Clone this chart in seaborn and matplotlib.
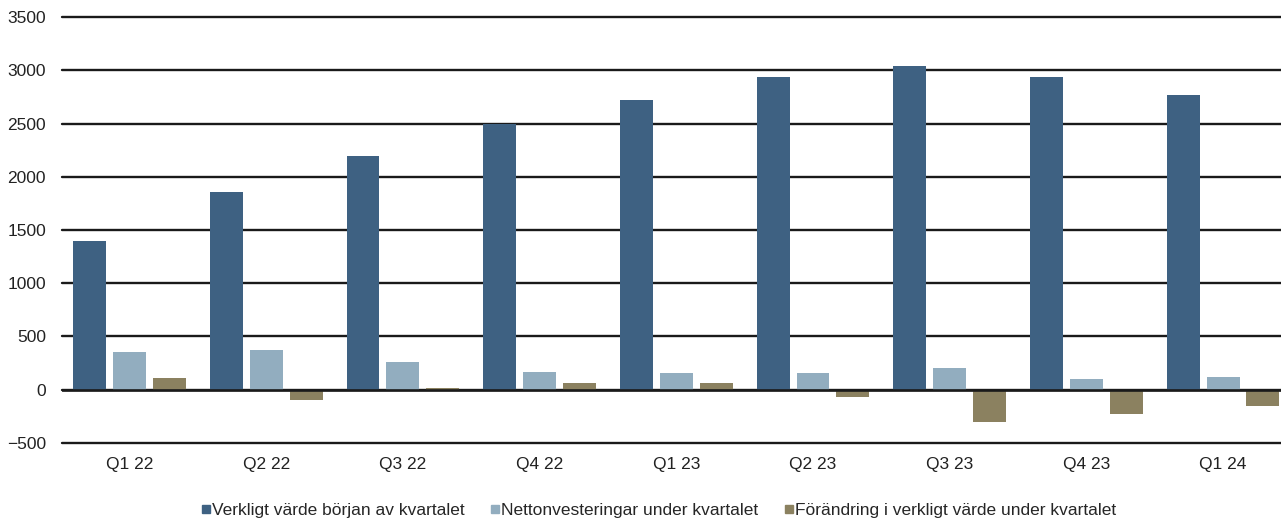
import numpy as np
import pandas as pd
import matplotlib
matplotlib.use("Agg")
import matplotlib.pyplot as plt
from matplotlib.lines import Line2D
import seaborn as sns

quarters = ["Q1 22", "Q2 22", "Q3 22", "Q4 22", "Q1 23", "Q2 23", "Q3 23", "Q4 23", "Q1 24"]
verkligt_varde = [1400, 1853, 2200, 2493, 2720, 2935, 3038, 2934, 2765]
nettoinvesteringar = [357, 367, 263, 169, 160, 160, 198, 103, 122]
forandring = [113, -94, 15, 66, 66, -66, -307, -232, -157]

series_names = [
    "Verkligt värde början av kvartalet",
    "Nettonvesteringar under kvartalet",
    "Förändring i verkligt värde under kvartalet",
]
colors = ["#3e6182", "#92adbf", "#8b8160"]

df = pd.DataFrame({
    "kvartal": quarters * 3,
    "serie": [series_names[0]] * 9 + [series_names[1]] * 9 + [series_names[2]] * 9,
    "varde": verkligt_varde + nettoinvesteringar + forandring,
})

sns.set_style("white")
plt.rcParams["font.family"] = ["Liberation Sans", "DejaVu Sans"]

fig = plt.figure(figsize=(12.81, 5.19), dpi=100)
ax = fig.add_axes([62 / 1281, 1 - 442.7 / 519, 1 - 62 / 1281, (442.7 - 17.3) / 519])

sns.barplot(data=df, x="kvartal", y="varde", hue="serie", palette=colors,
            width=0.876, gap=0.175, ax=ax, legend=False, saturation=1,
            linewidth=0, edgecolor="none")

# horisontella stödlinjer
ax.set_ylim(-500, 3500)
ax.set_yticks(np.arange(-500, 3501, 500))
ax.set_xlim(-0.494, 8.424)
for yv in np.arange(-500, 3501, 500):
    ax.axhline(yv, color="#1a1a1a", lw=1.7, zorder=0.5, clip_on=False)
ax.axhline(0, color="#1a1a1a", lw=1.9, zorder=3)

for s in ax.spines.values():
    s.set_visible(False)
ax.tick_params(axis="both", length=0, labelsize=12.5, colors="#222222")
ax.tick_params(axis="y", pad=11.5)
ax.tick_params(axis="x", pad=10)
ax.set_xlabel("")
ax.set_ylabel("")

handles = [Line2D([], [], marker="s", linestyle="none", color=c, markersize=6) for c in colors]
fig.legend(handles, series_names, loc="center", bbox_to_anchor=(0.5145, 1 - 510 / 519), ncol=3,
           frameon=False, fontsize=12.5, handlelength=0.5, handletextpad=0.1,
           columnspacing=1.5, borderaxespad=0)

fig.savefig("out.png", dpi=100)
